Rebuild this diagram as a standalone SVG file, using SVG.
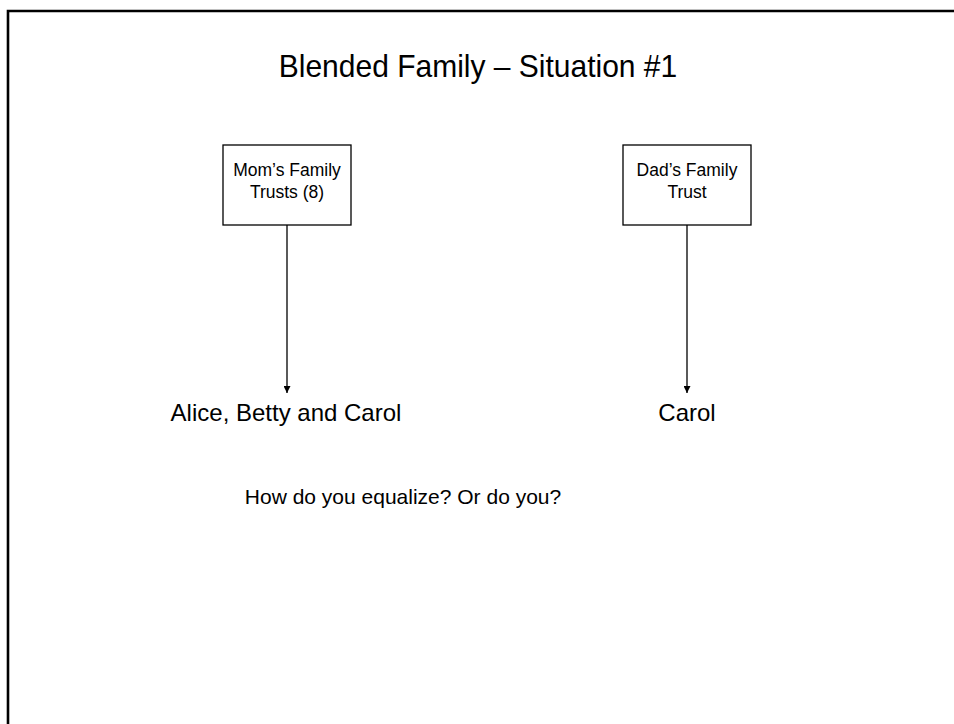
<svg xmlns="http://www.w3.org/2000/svg" width="954" height="724" viewBox="0 0 954 724">
<style>
text{font-family:"Liberation Sans",Arial,sans-serif;fill:#000}
.box{fill:#fff;stroke:#000;stroke-width:1.3}
.bt{font-size:17.5px;text-anchor:middle}
.lbl{font-size:24px;text-anchor:middle}
.conn{stroke:#000;stroke-width:1.3;fill:none}
</style>
<defs>
<marker id="arr" viewBox="0 0 10 10" refX="10" refY="5" markerWidth="8" markerHeight="7" markerUnits="userSpaceOnUse" orient="auto">
<path d="M0,0 L10,5 L0,10 z" fill="#000"/>
</marker>
</defs>
<rect width="954" height="724" fill="#fff"/>
<path d="M8,724 V11 H954" fill="none" stroke="#000" stroke-width="2.6"/>
<text x="478" y="77" font-size="30" text-anchor="middle" transform="translate(0,77) scale(1,1.06) translate(0,-77)">Blended Family – Situation #1</text>
<g id="connectors">
<line class="conn" x1="287" y1="225" x2="287" y2="393" marker-end="url(#arr)"/>
<line class="conn" x1="687" y1="225" x2="687" y2="393" marker-end="url(#arr)"/>
</g>
<g id="mom">
<rect class="box" x="223" y="145" width="128" height="80"/>
<text class="bt" x="287" y="176">Mom’s Family</text>
<text class="bt" x="287" y="198">Trusts (8)</text>
</g>
<g id="dad">
<rect class="box" x="623" y="145" width="128" height="80"/>
<text class="bt" x="687" y="176">Dad’s Family</text>
<text class="bt" x="687" y="198">Trust</text>
</g>
<g id="abc">
<text class="lbl" x="286" y="421">Alice, Betty and Carol</text>
</g>
<g id="carol">
<text class="lbl" x="687" y="421">Carol</text>
</g>
<text x="403" y="504" font-size="21" text-anchor="middle">How do you equalize? Or do you?</text>
</svg>
